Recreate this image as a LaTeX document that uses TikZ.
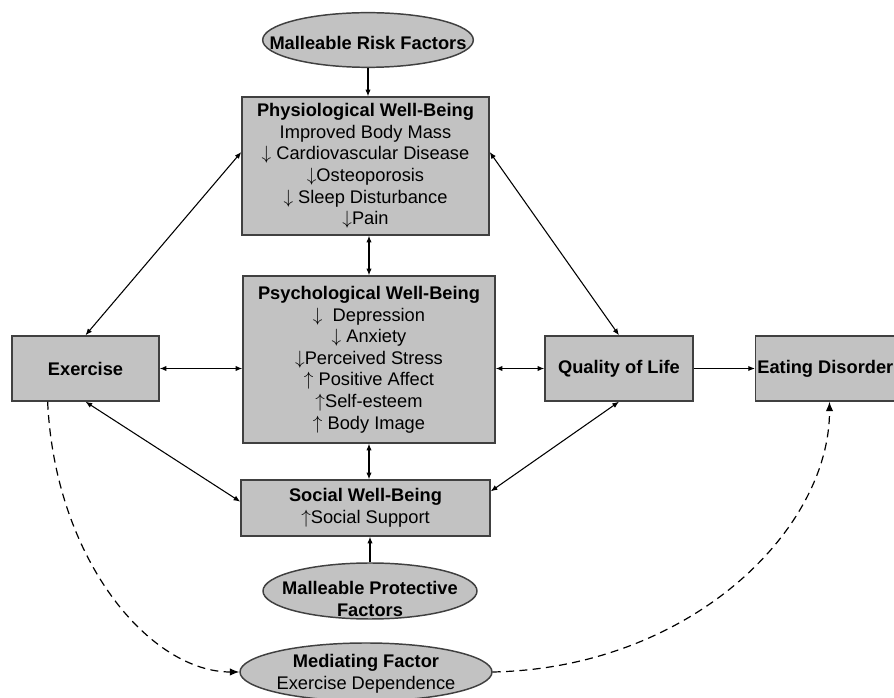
\documentclass[tikz,border=0pt]{standalone}
\usepackage{fontspec}
\setmainfont{Liberation Sans}
\usetikzlibrary{shapes.geometric,arrows.meta,calc}

\definecolor{boxgray}{RGB}{194,194,194}
\definecolor{edgegray}{RGB}{64,64,64}

\newcommand{\dn}{$\downarrow$}
\newcommand{\upa}{$\uparrow$}

\tikzset{
  wellbox/.style={draw=edgegray,fill=boxgray,line width=1.1pt,rectangle,align=center,inner sep=0pt},
  factorell/.style={draw=edgegray,fill=boxgray,line width=1.1pt,ellipse,inner sep=0pt},
  linkboth/.style={{Latex[length=5pt,width=4pt]}-{Latex[length=5pt,width=4pt]},line width=0.8pt},
  linkone/.style={-{Latex[length=5pt,width=4pt]},line width=0.8pt},
  linkdash/.style={-{Latex[length=7pt,width=5.5pt]},line width=0.9pt,dash pattern={on 6pt off 4pt}}
}

\begin{document}
\begin{tikzpicture}[x=0.75pt,y=0.75pt,yscale=-1,xscale=1,font=\fontsize{13.7}{16.2}\selectfont]
\useasboundingbox (0,0) rectangle (894,698);

% Ellipses
\node [factorell,minimum width=158pt,minimum height=41pt] (risk) at (368,40) {};
\node [factorell,minimum width=160.5pt,minimum height=42pt] (prot) at (370,591) {};
\node [factorell,minimum width=189pt,minimum height=43.5pt] (med) at (366,672) {};

% Boxes
\node [wellbox,minimum width=185.25pt,minimum height=103.5pt] (phys) at (365.5,166) {\textbf{Physiological Well-Being}\\Improved Body Mass\\\dn\ Cardiovascular Disease\\\dn Osteoporosis\\\dn\ Sleep Disturbance\\\dn Pain};
\node [wellbox,minimum width=189pt,minimum height=125.25pt] (psych) at (369,359.5) {\textbf{Psychological Well-Being}\\\dn\ \ Depression\\\dn\ Anxiety\\\dn Perceived Stress\\\upa\ Positive Affect\\\upa Self-esteem\\\upa\ Body Image};
\node [wellbox,minimum width=110.25pt,minimum height=48.75pt] (ex) at (85.5,368.5) {\textbf{Exercise}};
\node [wellbox,minimum width=111pt,minimum height=48.75pt] (qol) at (619,368.5) {\textbf{Quality of Life}};
\node [wellbox,minimum width=113pt,minimum height=48.75pt] (eat) at (831,368.5) {\hspace*{-8.5pt}\textbf{Eating Disorder}};
\node [wellbox,minimum width=186.75pt,minimum height=42pt] (soc) at (365.5,508) {\textbf{Social Well-Being}\\\upa Social Support};

% Text Node
\node [align=center] (risktext) at (368,43) {\textbf{Malleable Risk Factors}};
% Text Node
\node [align=center] (prottext) at (370,599) {\textbf{Malleable Protective}\\\textbf{Factors}};
% Text Node
\node [align=center] (medtext) at (366,674) {\textbf{Mediating Factor}\\Exercise Dependence};

%Straight Lines
\draw [linkone] (risk.south) -- (risk.south |- phys.north);
\draw [linkboth] (psych.north |- phys.south) -- (psych.north);
\draw [linkboth] (psych.south) -- (psych.south |- soc.north);
\draw [linkone] (prot.north) -- (prot.north |- soc.south);
\draw [linkboth] ($(phys.north west)!0.4!(phys.south west)$) -- (ex.north);
\draw [linkboth] ($(phys.north east)!0.4!(phys.south east)$) -- (qol.north);
\draw [linkboth] (ex.east) -- (ex.east -| psych.west);
\draw [linkboth] (psych.east |- qol.west) -- (qol.west);
\draw [linkboth] (ex.south) -- ($(soc.north west)!0.39!(soc.south west)$);
\draw [linkboth] (qol.south) -- ($(soc.north east)!0.21!(soc.south east)$);
\draw [linkone] (qol.east) -- (eat.west);

%Curve Lines
\coordinate (exfoot) at ($(ex.south west)!0.245!(ex.south east)$);
\coordinate (eatfoot) at ($(eat.south west)!0.49!(eat.south east)$);
\draw [linkdash] (exfoot) .. controls (55,560) and (150,672) .. (med.west);
\draw [linkdash] (med.east) .. controls (690,668) and (830,530) .. (eatfoot);
\end{tikzpicture}
\end{document}
